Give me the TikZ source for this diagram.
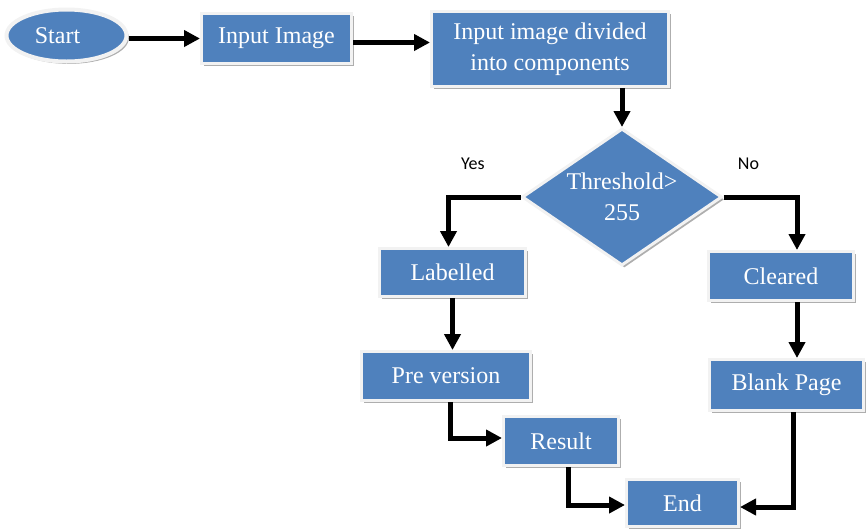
\documentclass[tikz,border=0pt]{standalone}
\usepackage{fontspec}
\setmainfont{Liberation Serif}
\newfontfamily\labelfont{Carlito}
\usetikzlibrary{shapes.geometric,arrows.meta,shadows}

\definecolor{boxblue}{HTML}{4F81BD}
\definecolor{boxrim}{HTML}{F2F2F2}

\begin{document}
\begin{tikzpicture}[x=0.5pt,y=-0.5pt,
	block/.style={draw=boxrim, line width=1.5pt, fill=boxblue, text=white, rectangle,
		align=center, inner sep=0pt, font=\fontsize{12}{15.5}\selectfont,
		drop shadow={shadow xshift=1.2pt, shadow yshift=-1.2pt, fill=black!45, opacity=0.7}},
	startblock/.style={block, ellipse, line width=2pt},
	decision/.style={block, diamond, aspect=1.46},
	link/.style={line width=2.5pt, -{Triangle[length=8pt,width=8pt]}},
	branch/.style={font=\labelfont\fontsize{9}{11}\selectfont, above=9pt}]

		\useasboundingbox (0,0) rectangle (867,531);

		%Blocks
		\node (Start) at (66.5,35.5) [startblock, minimum width=60pt, minimum height=26pt]{Start\hspace*{9pt}};
		\node (InputImage) at (276.5,38.5) [block, minimum width=75pt, minimum height=25pt]{Input Image};
		\node (DividedComponents) at (550,49) [block, minimum width=118.5pt, minimum height=37.5pt]{Input image divided\\into components};
		\node (Threshold) at (622,197) [decision, minimum width=100pt, minimum height=68.5pt]{Threshold>\\255};
		\node (Labelled) at (452.5,272.5) [block, minimum width=73pt, minimum height=24pt]{Labelled};
		\node (PreVersion) at (446,376) [block, minimum width=84.5pt, minimum height=24.5pt]{Pre version};
		\node (Result) at (561,441) [block, minimum width=57.5pt, minimum height=24.5pt]{Result};
		\node (End) at (682.5,503) [block, minimum width=56pt, minimum height=23.5pt]{End};
		\node (Cleared) at (781,276) [block, minimum width=72.5pt, minimum height=24.5pt]{Cleared};
		\node (BlankPage) at (786.5,385) [block, minimum width=77pt, minimum height=25.5pt]{Blank Page};

		%Links
		\draw[link] (Start.east |- InputImage.west) -- (InputImage.west);
		\draw[link] ([yshift=-2pt]InputImage.east) -- ([yshift=-2pt]InputImage.east -| DividedComponents.west);
		\draw[link] (Threshold.north |- DividedComponents.south) -- (Threshold.north);
		\draw[link] (Threshold.west) -| node[branch, pos=0.33]{Yes} ([xshift=-2pt]Labelled.north);
		\draw[link] (Threshold.east) -| node[branch, pos=0.17]{No} ([xshift=8pt]Cleared.north);
		\draw[link] (Labelled.south) -- (Labelled.south |- PreVersion.north);
		\draw[link] ([xshift=8pt]Cleared.south) -- ([xshift=8pt]Cleared.south |- BlankPage.north);
		\draw[link] ([xshift=2pt]PreVersion.south) |- ([yshift=1.5pt]Result.west);
		\draw[link] ([xshift=3.5pt]Result.south) |- ([yshift=-1pt]End.west);
		\draw[link] ([xshift=3.5pt]BlankPage.south) |- ([yshift=-2pt]End.east);

\end{tikzpicture}
\end{document}
